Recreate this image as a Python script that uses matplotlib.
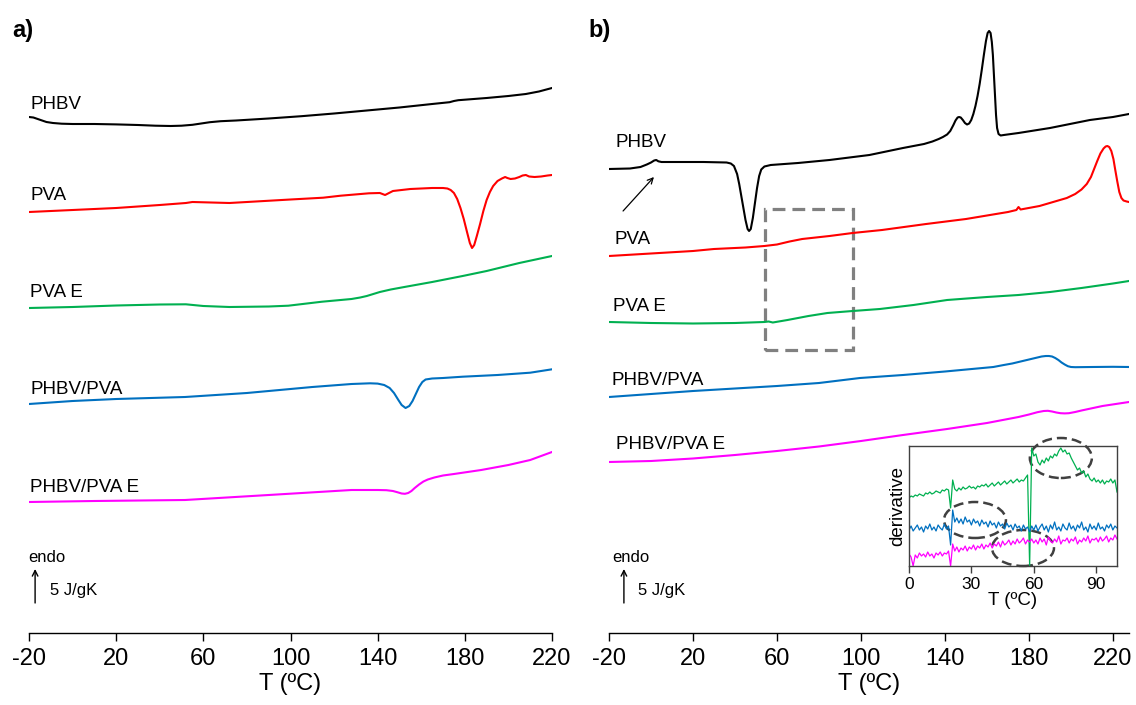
import matplotlib
matplotlib.use("Agg")
import matplotlib.pyplot as plt
from matplotlib.patches import Rectangle, Ellipse

plt.rcParams['font.family'] = ['Liberation Sans', 'DejaVu Sans']
plt.rcParams['axes.unicode_minus'] = False

# colours of the five samples
c_phbv = 'black'
c_pva = '#FF0000'
c_pvae = '#00B050'
c_blend = '#0070C0'
c_blende = '#FF00FF'

# ---- panel a) : temperature (C) and heat flow (a.u., endo up, curves offset)
a_phbv_t = [-20, -18, -16, -14, -12, -9, -5, 0, 10, 20, 30, 38, 45, 50, 55, 59, 63, 68, 75, 90, 105, 120, 135, 150,
            165, 173, 175, 177, 190, 200, 208, 214, 220]
a_phbv_h = [523, 522.5, 521, 519.5, 518, 517, 516.3, 516, 516, 515.6, 515, 514.3, 514, 514.3, 515.2, 516.5, 517.8, 518.8,
            519.5, 521.5, 523.8, 526.5, 529.5, 532.5, 536, 537.8, 539, 539.8, 542, 544, 546, 548.5, 552]

a_pva_t = [-20, 0, 20, 40, 52, 55, 72, 100, 115, 123, 136, 141, 143.4, 147, 155, 165, 168, 170, 172, 173.5, 175, 176.5,
           178, 179.5, 181, 182.3, 183.3, 184.3, 185.5, 187, 188.5, 190, 191.5, 193, 195, 197, 198.5, 199.5, 201, 203,
           205, 206.5, 208, 209.5, 212, 215, 218, 220]
a_pva_h = [428, 430, 432, 435, 437, 438, 437, 440.5, 442.3, 444.3, 446.7, 447, 445, 449, 451, 452, 452, 452, 451.5, 450,
           447, 441, 432, 421, 408, 397, 392, 395, 404, 416, 429, 440, 448, 454, 459, 461.5, 463, 462, 461, 461.5,
           463, 464.5, 465, 463.5, 463, 463.5, 464.5, 465]

a_pvae_t = [-20, 0, 20, 40, 52, 60, 72, 90, 99, 114.5, 128, 132, 135, 138, 141, 146, 153, 165, 179, 190, 205, 220]
a_pvae_h = [332, 333, 334.5, 335.5, 335.7, 334, 333, 333.5, 334.3, 338.3, 341, 342.5, 344, 346, 348, 350.5, 353.3, 358,
            364, 369, 377, 384]

a_blend_t = [-20, 0, 20, 51.6, 80, 110, 128, 136.5, 140, 143, 145.5, 147.5, 149.5, 151, 152.8, 154.5, 156, 157.5, 159,
             160.5, 162, 165, 170, 179, 195, 210, 220]
a_blend_h = [236, 239, 241, 243, 247, 253, 256, 256.7, 256.4, 255, 252, 247, 240, 235, 232, 234, 239, 246, 253, 258,
             260.5, 261.5, 262, 263.3, 265, 267.3, 270.7]

a_blende_t = [-20, 10, 51.6, 90, 128, 140, 144, 147, 149, 151, 152.5, 154, 155.5, 157, 159, 161, 163, 166, 170, 175,
              187.5, 200, 210, 220]
a_blende_h = [138, 139, 140, 145, 150, 150, 149.8, 149, 147.8, 146.5, 146.2, 147, 149, 152, 155.5, 158.5, 160.5, 162.5,
              164.5, 166, 170, 175, 180, 188]

# ---- panel b)
b_phbv_t = [-20, -10, -5, -2, 0, 1.5, 2.5, 3.5, 5, 10, 25, 36, 38, 39.5, 41, 42, 43, 44, 45, 46, 46.7, 47.5, 48.5, 49.5,
            50.5, 51.5, 52.5, 54, 57, 70, 85, 104, 120, 130, 134, 137, 139, 141, 142.5, 144, 145, 146, 146.7, 147.5,
            148.5, 149.5, 150.5, 151.5, 152.5, 153.5, 154.5, 155.5, 156.5, 157.5, 158.5, 159.5, 160.3, 161, 161.7,
            162.3, 162.8, 163.3, 163.8, 164.3, 164.8, 165.5, 166.5, 168, 175, 190, 209, 220, 227.6]
b_phbv_h = [471, 471.5, 473, 475.5, 477.5, 479.5, 480, 478.7, 478, 478, 478, 477.5, 476.5, 474, 466, 456, 444, 432, 420,
            411, 409, 411, 422, 437, 452, 464, 470.5, 473.5, 475, 477, 480, 485, 492, 496, 498.5, 501, 503, 505.5, 509,
            515, 519.5, 522.5, 523, 522.5, 520, 517, 515.5, 516.5, 520, 526, 534, 544, 556, 570, 585, 599, 607, 609,
            607, 598, 585, 565, 545, 525, 512, 506, 504.5, 505, 507, 512, 520, 523, 526]

b_pva_t = [-20, 0, 20, 30, 45, 54, 60, 66, 72, 85, 96, 110, 131, 150, 170, 174, 175, 176, 185, 198, 202, 205, 207.5,
           209.5, 211, 212.5, 214, 215.5, 216.5, 217.3, 218.2, 219.2, 220.2, 221, 222, 223, 224, 225, 226.5, 227.6]
b_pva_h = [384, 386.5, 389, 391, 392.5, 394, 395.5, 398.5, 401, 404, 407, 410, 416, 421, 428, 430, 433, 430.5, 434, 442,
           446, 450.5, 456, 463, 471, 479, 486.5, 491.5, 493.5, 494, 493, 489, 481, 471, 459, 448, 442, 439.5, 438.5,
           438]

b_pvae_t = [-20, 0, 20, 40, 54, 56, 58, 65, 75, 84, 96, 109, 125, 141, 160, 175, 190, 205, 220, 227.6]
b_pvae_h = [318, 317, 316.5, 317, 318, 318.5, 317.5, 320, 324, 327, 329, 331, 335, 340, 343, 345, 348, 352, 356.5, 359]

b_blend_t = [-20, 0, 20, 40, 60, 80, 99.5, 120, 140, 163, 168, 172, 176, 180, 183, 186, 188, 189.5, 191, 192.5, 194,
             195.5, 197, 198.5, 200, 202, 210, 220, 227.6]
b_blend_h = [243, 246, 249, 251.5, 254, 257, 262, 265, 268.5, 273, 275, 276.5, 278.5, 280.5, 282, 283.5, 284, 284,
             283.5, 282, 280, 277.5, 275.5, 273.8, 273, 272.8, 273, 273.2, 273]

b_blende_t = [-20, 0, 20, 40, 60, 80, 100, 120, 141, 160, 175, 180, 184, 187, 189, 191, 193, 195, 197, 199, 202, 205,
              215, 227.6]
b_blende_h = [178, 179, 181.5, 185, 189, 193.5, 199, 205, 211, 217, 223, 225.5, 227.8, 229, 229.2, 228.5, 227.5, 226.8,
              226.6, 226.8, 228, 229.5, 234, 238]

# ---- inset: derivative signal (a.u.) between 0 and 100 C
ins_t = list(range(0, 101))
ins_pvae = [68, 70, 69, 71, 70, 72, 71, 70, 73, 72, 74, 72, 73, 75, 74, 73, 76, 75, 77, 76,
            58, 86, 77, 75, 78, 76, 79, 77, 78, 80, 78, 79, 77, 80, 79, 81, 80, 82, 79, 81,
            83, 80, 82, 84, 81, 83, 85, 82, 84, 86, 83, 85, 87, 84, 86, 85, 88, 91, 0, 118,
            110, 112, 104, 101, 106, 103, 108, 105, 110, 108, 112, 110, 115, 118, 114, 116, 112, 113, 108, 104,
            100, 96, 98, 93, 95, 89, 92, 87, 85, 88, 84, 86, 83, 86, 82, 85, 84, 87, 83, 86, 74]
ins_blend = [36, 40, 35, 38, 41, 36, 39, 34, 40, 37, 42, 36, 39, 35, 41, 38, 36, 42, 37, 40,
             21, 56, 44, 48, 43, 47, 42, 49, 44, 46, 41, 47, 43, 45, 40, 46, 42, 44, 39, 45,
             41, 43, 38, 44, 40, 42, 37, 43, 39, 41, 36, 42, 38, 40, 35, 41, 37, 39, 34, 40,
             36, 41, 35, 39, 42, 36, 40, 34, 41, 37, 44, 36, 39, 35, 42, 38, 36, 43, 37, 40,
             35, 41, 38, 44, 36, 39, 34, 42, 37, 40, 36, 43, 37, 39, 35, 41, 38, 42, 36, 40, 38]
ins_blende = [12, 9, 0, 11, 8, 13, 10, 12, 9, 14, 10, 12, 8, 13, 11, 14, 10, 13, 12, 15,
              0, 22, 15, 19, 14, 18, 16, 20, 15, 19, 17, 21, 16, 20, 18, 22, 17, 21, 19, 23,
              18, 22, 20, 24, 19, 25, 21, 23, 26, 21, 25, 22, 27, 23, 25, 28, 22, 26, 24, 27,
              23, 26, 22, 28, 24, 27, 21, 29, 25, 23, 27, 24, 30, 22, 26, 25, 28, 23, 27, 25,
              29, 22, 26, 24, 28, 25, 30, 23, 27, 26, 28, 24, 29, 25, 27, 30, 24, 28, 26, 31, 27]

names = ['PHBV', 'PVA', 'PVA E', 'PHBV/PVA', 'PHBV/PVA E']
colors = [c_phbv, c_pva, c_pvae, c_blend, c_blende]

W, H = 1136, 705


def px_box(x0, y0, x1, y1):
    # figure fraction box from pixel corners (top-left origin)
    return [x0 / W, 1 - y1 / H, (x1 - x0) / W, (y1 - y0) / H]


def setup_panel(ax, xmax):
    ax.set_xlim(-20, xmax)
    ax.set_ylim(7, 630)
    for s in ['left', 'right', 'top']:
        ax.spines[s].set_visible(False)
    ax.spines['bottom'].set_linewidth(1.0)
    ax.set_yticks([])
    ax.set_xticks(range(-20, 221, 40))
    ax.tick_params(axis='x', direction='out', length=6, width=1, labelsize=17, pad=5)
    ax.set_xlabel('T (ºC)', fontsize=17, labelpad=2)


def scale_bar(ax, x_arrow, x_endo, x_text):
    ax.annotate('', xy=(x_arrow, 71), xytext=(x_arrow, 37),
                arrowprops=dict(arrowstyle='->', lw=1.0, color='black', shrinkA=0, shrinkB=0))
    ax.text(x_endo, 83, 'endo', fontsize=12, va='center', ha='left')
    ax.text(x_text, 49, '5 J/gK', fontsize=12, va='center', ha='left')


fig = plt.figure(figsize=(W / 100, H / 100), dpi=100)

# panel a
ax_a = fig.add_axes(px_box(29, 10, 552, 633))
setup_panel(ax_a, 220)
a_curves = [(a_phbv_t, a_phbv_h), (a_pva_t, a_pva_h), (a_pvae_t, a_pvae_h),
            (a_blend_t, a_blend_h), (a_blende_t, a_blende_h)]
for (t, h), c in zip(a_curves, colors):
    ax_a.plot(t, h, color=c, lw=1.5)
for name, y in zip(names, [535, 444, 347, 250, 152]):
    ax_a.text(-19.5, y, name, fontsize=13.5, va='center', ha='left')
scale_bar(ax_a, -17.2, -20.5, -10.4)

# panel b
ax_b = fig.add_axes(px_box(609, 10, 1129, 633))
setup_panel(ax_b, -20 + 520 / 2.1)
b_curves = [(b_phbv_t, b_phbv_h), (b_pva_t, b_pva_h), (b_pvae_t, b_pvae_h),
            (b_blend_t, b_blend_h), (b_blende_t, b_blende_h)]
for (t, h), c in zip(b_curves, colors):
    ax_b.plot(t, h, color=c, lw=1.5)
for name, x, y in zip(names, [-17.1, -17.6, -18.1, -18.6, -16.7], [497, 400, 333, 259, 195]):
    ax_b.text(x, y, name, fontsize=13.5, va='center', ha='left')
scale_bar(ax_b, -12.9, -18.6, -6.2)
ax_b.annotate('', xy=(1.4, 463), xytext=(-13.3, 429),
              arrowprops=dict(arrowstyle='->', lw=0.9, color='black', shrinkA=0, shrinkB=0))
ax_b.add_patch(Rectangle((54.3, 290), 96.2 - 54.3, 431 - 290, fill=False,
                         edgecolor='#808080', lw=2.3, linestyle=(0, (4, 2.2))))

fig.text(12 / W, 1 - 30 / H, 'a)', fontsize=17, fontweight='bold', va='center')
fig.text(588 / W, 1 - 30 / H, 'b)', fontsize=17, fontweight='bold', va='center')

# inset with derivative curves
ax_in = fig.add_axes(px_box(909, 446, 1117, 566))
ax_in.set_xlim(0, 100)
ax_in.set_ylim(0, 120)
ax_in.plot(ins_t, ins_pvae, color=c_pvae, lw=0.9)
ax_in.plot(ins_t, ins_blend, color=c_blend, lw=0.9)
ax_in.plot(ins_t, ins_blende, color=c_blende, lw=0.9)
for s in ax_in.spines.values():
    s.set_color('#404040')
    s.set_linewidth(1.0)
ax_in.set_yticks([])
ax_in.set_xticks([0, 30, 60, 90])
ax_in.tick_params(axis='x', direction='out', length=5, width=1, color='#404040', labelsize=12.5, pad=3)
ax_in.set_xlabel('T (ºC)', fontsize=13.5, labelpad=0)
ax_in.set_ylabel('derivative', fontsize=13.5, labelpad=2)
for cx, cy in [(73, 108), (31.7, 46), (54.8, 18)]:
    ax_in.add_patch(Ellipse((cx, cy), 29.8, 40 if cy > 100 else 36, fill=False, edgecolor='#404040',
                            lw=1.8, linestyle=(0, (4, 2)), clip_on=False))

fig.savefig('out.png', dpi=100)
